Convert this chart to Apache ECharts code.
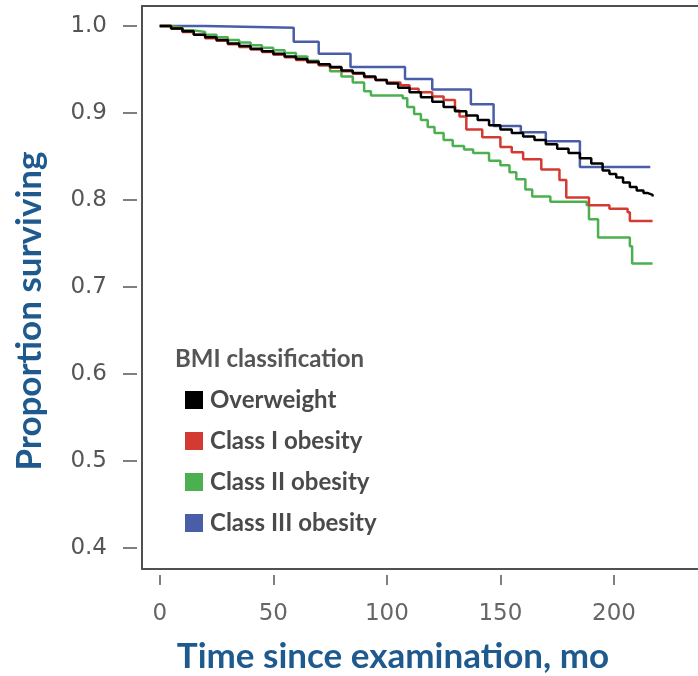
<!DOCTYPE html>
<html>
<head>
<meta charset="utf-8">
<script src="https://cdn.jsdelivr.net/npm/echarts@6/dist/echarts.min.js"></script>
<style>
  html, body { margin: 0; padding: 0; background: #fff; }
  #chart { width: 698px; height: 676px; }
</style>
</head>
<body>
<div id="chart"></div>
<script>
// tick labels
const xTicks = [0, 50, 100, 150, 200];
const yTicks = [0.4, 0.5, 0.6, 0.7, 0.8, 0.9, 1.0];

// survival curves, [month, proportion]
const overweight = [
  [0, 1.0], [5, 0.997], [10, 0.994], [15, 0.990], [20, 0.987], [25, 0.984],
  [30, 0.980], [35, 0.977], [40, 0.974], [45, 0.971], [50, 0.968], [55, 0.965],
  [60, 0.962], [65, 0.959], [70, 0.956], [75, 0.953], [80, 0.949], [85, 0.946],
  [90, 0.942], [95, 0.938], [100, 0.934], [105, 0.929], [110, 0.924], [115, 0.918],
  [120, 0.913], [125, 0.907], [130, 0.902], [135, 0.897], [140, 0.892], [145, 0.886],
  [150, 0.881], [155, 0.877], [160, 0.873], [165, 0.869], [170, 0.864], [175, 0.859],
  [180, 0.854], [185, 0.848], [190, 0.842], [195, 0.834], [198, 0.830], [201, 0.826],
  [204, 0.820], [207, 0.815], [210, 0.811], [213, 0.808], [215, 0.806], [217, 0.804],
];
const classOne = [
  [0, 1.0], [5, 0.997], [10, 0.993], [15, 0.990], [20, 0.986], [25, 0.983],
  [30, 0.979], [35, 0.976], [40, 0.973], [45, 0.970], [50, 0.967], [55, 0.964],
  [60, 0.961], [65, 0.958], [70, 0.955], [75, 0.952], [80, 0.948], [85, 0.945],
  [90, 0.941], [95, 0.938], [100, 0.935], [106, 0.932], [110, 0.928], [114, 0.924],
  [120, 0.919], [125, 0.915], [130, 0.903], [132, 0.896], [135, 0.881], [142, 0.872],
  [150, 0.861], [155, 0.855], [160, 0.847], [168, 0.835], [176, 0.823], [179, 0.803],
  [189, 0.794], [198, 0.790], [206, 0.786], [207, 0.776], [217, 0.776],
];
const classTwo = [
  [0, 1.0], [5, 0.998], [10, 0.995], [15, 0.993], [20, 0.990], [25, 0.987],
  [30, 0.984], [35, 0.981], [40, 0.978], [45, 0.975], [50, 0.972], [55, 0.969],
  [60, 0.965], [65, 0.960], [70, 0.955], [75, 0.948], [80, 0.942], [85, 0.935],
  [90, 0.925], [93, 0.920], [107, 0.917], [109, 0.907], [112, 0.899], [115, 0.892],
  [118, 0.884], [121, 0.877], [125, 0.869], [129, 0.862], [134, 0.858], [138, 0.854],
  [145, 0.845], [150, 0.840], [154, 0.832], [157, 0.824], [161, 0.812], [164, 0.804],
  [172, 0.798], [188, 0.794], [189, 0.778], [193, 0.757], [207, 0.747], [208, 0.727],
  [217, 0.727],
];
const classThree = [
  [0, 1.0], [20, 0.998], [59, 0.982], [70, 0.968], [84, 0.953], [108, 0.939],
  [120, 0.927], [137, 0.910], [147, 0.885], [159, 0.878], [170, 0.8675],
  [185, 0.838], [216, 0.838],
];

const chart = echarts.init(document.getElementById('chart'));

function curve(name, data, color) {
  return {
    name,
    type: 'line',
    step: 'end',
    data,
    showSymbol: false,
    color,
    lineStyle: { color, width: 2.5 },
    itemStyle: { color },
    emphasis: { disabled: true },
  };
}

// frame edges (left, top, bottom; open on the right)
function frameAxis(extra) {
  return Object.assign({
    type: 'value',
    gridIndex: 1,
    min: 0,
    max: 1,
    axisLine: { show: true, onZero: false, lineStyle: { color: '#505050', width: 2 } },
    axisTick: { show: false },
    axisLabel: { show: false },
    splitLine: { show: false },
  }, extra);
}

chart.setOption({
  animation: false,
  textStyle: { fontFamily: 'DejaVu Sans' },
  grid: [
    // data grid: its left/bottom edges are where the detached ticks sit
    { left: 137, top: 6, right: 0, bottom: 101, outerBoundsMode: 'none' },
    // frame
    { left: 142, top: 6, right: 0, bottom: 107, outerBoundsMode: 'none' },
  ],
  legend: {
    orient: 'vertical',
    left: 185,
    top: 388,
    padding: 0,
    icon: 'rect',
    itemWidth: 18,
    itemHeight: 18,
    itemGap: 17,
    selectedMode: false,
    textStyle: {
      fontFamily: 'Lato',
      fontWeight: 'bold',
      fontSize: 24,
      color: '#4a4a4a',
      padding: [0, 0, 0, 2],
    },
    data: ['Overweight', 'Class I obesity', 'Class II obesity', 'Class III obesity'],
  },
  xAxis: [
    {
      type: 'value',
      gridIndex: 0,
      min: -10,
      max: 237,
      axisLine: { show: false, onZero: false },
      splitLine: { show: false },
      axisTick: {
        show: true,
        length: 10,
        lineStyle: { color: '#555', width: 1.5 },
        customValues: xTicks,
      },
      axisLabel: {
        margin: 28,
        fontSize: 23,
        color: '#666',
        customValues: xTicks,
      },
    },
    frameAxis({ position: 'bottom' }),
    frameAxis({ position: 'top' }),
  ],
  yAxis: [
    {
      type: 'value',
      gridIndex: 0,
      min: 0.369,
      max: 1.023,
      axisLine: { show: false, onZero: false },
      splitLine: { show: false },
      axisTick: {
        show: true,
        length: 14,
        lineStyle: { color: '#555', width: 1.5 },
        customValues: yTicks,
      },
      axisLabel: {
        margin: 30,
        fontSize: 23,
        color: '#555',
        customValues: yTicks,
        formatter: (v) => v.toFixed(1),
      },
    },
    frameAxis({ position: 'left' }),
  ],
  graphic: [
    {
      type: 'text',
      x: 175,
      y: 359,
      style: {
        text: 'BMI classification',
        fontFamily: 'Lato',
        fontWeight: 'bold',
        fontSize: 24,
        fill: '#555',
        verticalAlign: 'middle',
      },
    },
    {
      type: 'text',
      x: 393,
      y: 657,
      style: {
        text: 'Time since examination, mo',
        fontFamily: 'Lato',
        fontWeight: 'bold',
        fontSize: 35,
        fill: '#1f5a8f',
        align: 'center',
        verticalAlign: 'middle',
      },
    },
    {
      type: 'text',
      x: 30,
      y: 311,
      rotation: Math.PI / 2,
      style: {
        text: 'Proportion surviving',
        fontFamily: 'Lato',
        fontWeight: 'bold',
        fontSize: 35,
        fill: '#1f5a8f',
        align: 'center',
        verticalAlign: 'middle',
      },
    },
  ],
  series: [
    curve('Class III obesity', classThree, '#4a5ea8'),
    curve('Class II obesity', classTwo, '#4caf50'),
    curve('Class I obesity', classOne, '#d33a32'),
    curve('Overweight', overweight, '#000000'),
  ],
});
</script>
</body>
</html>
